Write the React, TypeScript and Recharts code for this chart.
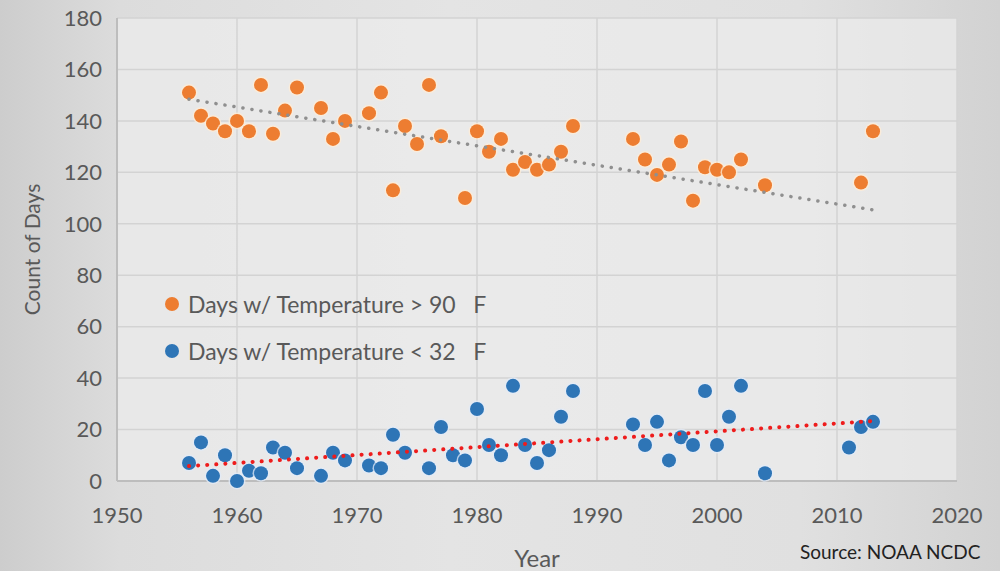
import { ScatterChart, Scatter, XAxis, YAxis, CartesianGrid, Legend } from "recharts";

// Days above 90 F (orange)
const hotYears = [
  1956, 1957, 1958, 1959, 1960, 1961, 1962, 1963, 1964, 1965, 1967, 1968, 1969,
  1971, 1972, 1973, 1974, 1975, 1976, 1977, 1979, 1980, 1981, 1982, 1983, 1984,
  1985, 1986, 1987, 1988, 1993, 1994, 1995, 1996, 1997, 1998, 1999, 2000, 2001,
  2002, 2004, 2012, 2013,
];
const hotDays = [
  151, 142, 139, 136, 140, 136, 154, 135, 144, 153, 145, 133, 140,
  143, 151, 113, 138, 131, 154, 134, 110, 136, 128, 133, 121, 124,
  121, 123, 128, 138, 133, 125, 119, 123, 132, 109, 122, 121, 120,
  125, 115, 116, 136,
];

// Days below 32 F (blue)
const coldYears = [
  1956, 1957, 1958, 1959, 1960, 1961, 1962, 1963, 1964, 1965, 1967, 1968, 1969,
  1971, 1972, 1973, 1974, 1976, 1977, 1978, 1979, 1980, 1981, 1982, 1983, 1984,
  1985, 1986, 1987, 1988, 1993, 1994, 1995, 1996, 1997, 1998, 1999, 2000, 2001,
  2002, 2004, 2011, 2012, 2013,
];
const coldDays = [
  7, 15, 2, 10, 0, 4, 3, 13, 11, 5, 2, 11, 8,
  6, 5, 18, 11, 5, 21, 10, 8, 28, 14, 10, 37, 14,
  7, 12, 25, 35, 22, 14, 23, 8, 17, 14, 35, 14, 25,
  37, 3, 13, 21, 23,
];

// trend line end points
const hotTrendYears = [1956, 2013];
const hotTrendDays = [148.4, 105.4];
const coldTrendYears = [1956, 2013];
const coldTrendDays = [5.8, 23.3];

const xTicks = [1950, 1960, 1970, 1980, 1990, 2000, 2010, 2020];
const yTicks = [0, 20, 40, 60, 80, 100, 120, 140, 160, 180];

const HOT_COLOR = "#ED7D31";
const COLD_COLOR = "#2E75B6";
const TEXT_COLOR = "#595959";
const FONT = "Lato, 'Open Sans', sans-serif";

const toPoints = (xs: number[], ys: number[]) => xs.map((x, i) => ({ year: x, days: ys[i] }));

const hotData = toPoints(hotYears, hotDays);
const coldData = toPoints(coldYears, coldDays);
const hotTrend = toPoints(hotTrendYears, hotTrendDays);
const coldTrend = toPoints(coldTrendYears, coldTrendDays);

const legendItems = [
  { label: "Days w/ Temperature > 90\u00a0\u00a0 F", color: HOT_COLOR },
  { label: "Days w/ Temperature < 32\u00a0\u00a0 F", color: COLD_COLOR },
];

const dot = (color: string, halo: string) => (props: any) => (
  <g>
    <circle cx={props.cx} cy={props.cy} r={8.5} fill={halo} />
    <circle cx={props.cx} cy={props.cy} r={7} fill={color} />
  </g>
);

const noDot = () => <g />;

function LegendBox() {
  return (
    <div style={{ fontFamily: FONT, fontSize: 23, color: TEXT_COLOR }}>
      {legendItems.map((it) => (
        <div key={it.label} style={{ display: "flex", alignItems: "center", height: 47 }}>
          <span
            style={{
              width: 14,
              height: 14,
              borderRadius: 7,
              background: it.color,
              marginRight: 9,
              display: "inline-block",
            }}
          />
          <span style={{ whiteSpace: "nowrap" }}>{it.label}</span>
        </div>
      ))}
    </div>
  );
}

export default function App() {
  return (
    <div
      style={{
        position: "absolute",
        left: 0,
        top: 0,
        width: 1000,
        height: 571,
        background:
          "linear-gradient(90deg, #cdcdcd 0%, #dcdcdc 12%, #e4e4e4 45%, #e0e0e0 80%, #d2d2d2 100%)",
        fontFamily: FONT,
      }}
    >
      <ScatterChart width={1000} height={571} margin={{ top: 18, right: 43, left: 0, bottom: 0 }}>
        <CartesianGrid stroke="#d3d3d3" strokeWidth={1.5} fill="#ededed" fillOpacity={0.7} />
        <XAxis
          type="number"
          dataKey="year"
          domain={[1950, 2020]}
          ticks={xTicks}
          height={90}
          tickSize={0}
          tickMargin={26}
          axisLine={{ stroke: "#bdbdbd", strokeWidth: 2 }}
          tick={{ fill: TEXT_COLOR, fontSize: 22, fontFamily: FONT }}
          label={{
            value: "Year",
            position: "insideBottom",
            offset: 4,
            fill: TEXT_COLOR,
            fontSize: 24,
            fontFamily: FONT,
          }}
        />
        <YAxis
          type="number"
          dataKey="days"
          domain={[0, 180]}
          ticks={yTicks}
          width={117}
          tickSize={0}
          tickMargin={15}
          axisLine={{ stroke: "#bdbdbd", strokeWidth: 2 }}
          tick={{ fill: TEXT_COLOR, fontSize: 22, fontFamily: FONT }}
          label={{
            value: "Count of Days",
            angle: -90,
            position: "insideLeft",
            offset: 33,
            fill: TEXT_COLOR,
            fontSize: 21,
            fontFamily: FONT,
            style: { textAnchor: "middle" },
          }}
        />
        <Legend
          layout="vertical"
          align="center"
          verticalAlign="middle"
          wrapperStyle={{ left: 165, top: 280, width: 400 }}
          content={() => <LegendBox />}
        />
        <Scatter
          data={hotData}
          shape={dot(HOT_COLOR, "rgba(255,236,214,0.75)")}
          isAnimationActive={false}
        />
        <Scatter
          data={coldData}
          shape={dot(COLD_COLOR, "rgba(225,235,248,0.75)")}
          isAnimationActive={false}
        />
        <Scatter
          data={hotTrend}
          line={{ stroke: "#8f8f8f", strokeWidth: 3.5, strokeDasharray: "0.1 9", strokeLinecap: "round" }}
          shape={noDot}
          isAnimationActive={false}
        />
        <Scatter
          data={coldTrend}
          line={{ stroke: "#ee1c1c", strokeWidth: 4, strokeDasharray: "0.1 9", strokeLinecap: "round" }}
          shape={noDot}
          isAnimationActive={false}
        />
      </ScatterChart>
      <div
        style={{
          position: "absolute",
          left: 800,
          top: 540,
          fontSize: 19,
          color: "#222222",
          fontFamily: FONT,
          whiteSpace: "nowrap",
        }}
      >
        Source: NOAA NCDC
      </div>
    </div>
  );
}
